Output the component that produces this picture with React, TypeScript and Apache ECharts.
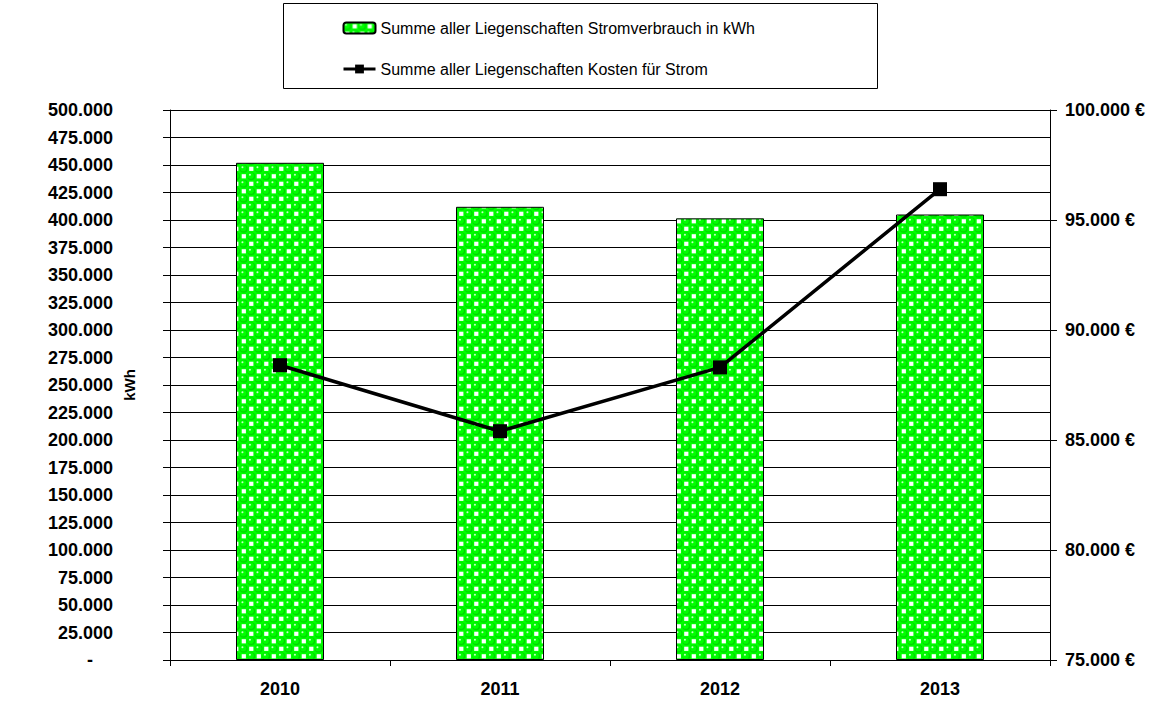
import React, { useEffect, useRef } from "react";
import * as echarts from "echarts";

const years = ["2010", "2011", "2012", "2013"];
const consumptionKWh = [452000, 412000, 401500, 405000];
const costEUR = [88400, 85400, 88300, 96400];
const barName = "Summe aller Liegenschaften Stromverbrauch in kWh";
const lineName = "Summe aller Liegenschaften Kosten für Strom";

function fmtDE(v: number): string {
  return String(Math.round(v)).replace(/\B(?=(\d{3})+(?!\d))/g, ".");
}

function makePatternCanvas(): HTMLCanvasElement {
  const c = document.createElement("canvas");
  c.width = 15;
  c.height = 15;
  const ctx = c.getContext("2d")!;
  ctx.fillStyle = "#00ff00";
  ctx.fillRect(0, 0, 15, 15);
  ctx.fillStyle = "#ffffff";
  ctx.fillRect(9.2, 1.7, 4.2, 4.2);
  ctx.fillRect(1.7, 9.2, 4.2, 4.2);
  const balls = [
    [3.75, 3.75],
    [11.25, 11.25],
    [11.25 - 15, 11.25],
    [11.25, 11.25 - 15],
    [11.25 - 15, 11.25 - 15],
    [3.75 + 15, 3.75],
    [3.75, 3.75 + 15],
    [3.75 + 15, 3.75 + 15],
  ];
  for (const [x, y] of balls) {
    ctx.beginPath();
    ctx.arc(x, y, 3.9, 0, Math.PI * 2);
    ctx.fillStyle = "#00d800";
    ctx.fill();
    ctx.beginPath();
    ctx.arc(x - 0.5, y - 0.5, 3.1, 0, Math.PI * 2);
    ctx.fillStyle = "#00ff00";
    ctx.fill();
    ctx.beginPath();
    ctx.arc(x - 1.3, y - 1.5, 1.0, 0, Math.PI * 2);
    ctx.fillStyle = "#c8ffc8";
    ctx.fill();
  }
  return c;
}

export default function App() {
  const ref = useRef<HTMLDivElement>(null);
  useEffect(() => {
    if (!ref.current) return;
    const chart = echarts.init(ref.current, undefined, { renderer: "svg" });
    const pat = makePatternCanvas();
    const pattern: any = {
      image: pat,
      repeat: "repeat",
      imageWidth: 15,
      imageHeight: 15,
    };
    const font = "Liberation Sans, Arial, sans-serif";
    chart.setOption({
      animation: false,
      backgroundColor: "#ffffff",
      textStyle: { fontFamily: font, color: "#000" },
      graphic: [
        {
          type: "rect",
          shape: { x: 283.5, y: 3.5, width: 594, height: 85 },
          style: { fill: "#fff", stroke: "#000", lineWidth: 1 },
          z: -1,
        },
      ],
      legend: {
        orient: "vertical",
        left: 342,
        top: 20,
        padding: 0,
        itemGap: 25,
        itemWidth: 32,
        itemHeight: 11,
        textStyle: { fontSize: 16, color: "#000", fontFamily: font },
        data: [
          { name: barName },
          { name: lineName, lineStyle: { width: 3, color: "#000" } },
        ],
      },
      grid: { left: 170, right: 113, top: 110, height: 550 },
      xAxis: {
        type: "category",
        data: years,
        boundaryGap: true,
        axisLine: { show: true, lineStyle: { color: "#000", width: 1 } },
        axisTick: { show: true, alignWithLabel: false, length: 6, lineStyle: { color: "#000" } },
        axisLabel: { fontSize: 18, fontWeight: "bold", color: "#000", margin: 20, fontFamily: font },
      },
      yAxis: [
        {
          type: "value",
          min: 0,
          max: 500000,
          interval: 25000,
          name: "kWh",
          nameLocation: "middle",
          nameGap: 33,
          nameMoveOverlap: false,
          nameRotate: 90,
          nameTextStyle: { fontSize: 15, fontWeight: "bold", color: "#000", fontFamily: font },
          axisLine: { show: true, lineStyle: { color: "#000", width: 1 } },
          axisTick: { show: true, length: 7, lineStyle: { color: "#000" } },
          splitLine: { show: true, lineStyle: { color: "#000", width: 1 } },
          axisLabel: {
            fontSize: 18,
            fontWeight: "bold",
            color: "#000",
            margin: 57,
            fontFamily: font,
            formatter: (v: number) => (v === 0 ? "{d|-}" : fmtDE(v)),
            rich: {
              d: { fontSize: 18, fontWeight: "bold", color: "#000", padding: [0, 20, 0, 0], fontFamily: font },
            },
          },
        },
        {
          type: "value",
          position: "right",
          min: 75000,
          max: 100000,
          interval: 5000,
          axisLine: { show: true, lineStyle: { color: "#000", width: 1 } },
          axisTick: { show: true, length: 7, lineStyle: { color: "#000" } },
          splitLine: { show: false },
          axisLabel: {
            fontSize: 18,
            fontWeight: "bold",
            color: "#000",
            margin: 15,
            fontFamily: font,
            formatter: (v: number) => fmtDE(v) + " €",
          },
        },
      ],
      series: [
        {
          name: barName,
          type: "bar",
          yAxisIndex: 0,
          data: consumptionKWh,
          barWidth: 88,
          itemStyle: { color: pattern, borderColor: "#000", borderWidth: 1 },
        },
        {
          name: lineName,
          type: "line",
          yAxisIndex: 1,
          data: costEUR,
          symbol: "rect",
          symbolSize: 14,
          itemStyle: { color: "#000" },
          lineStyle: { color: "#000", width: 3.5 },
        },
      ],
    });
    return () => chart.dispose();
  }, []);
  return <div ref={ref} style={{ width: 1163, height: 702, position: "absolute", left: 0, top: 0 }} />;
}
